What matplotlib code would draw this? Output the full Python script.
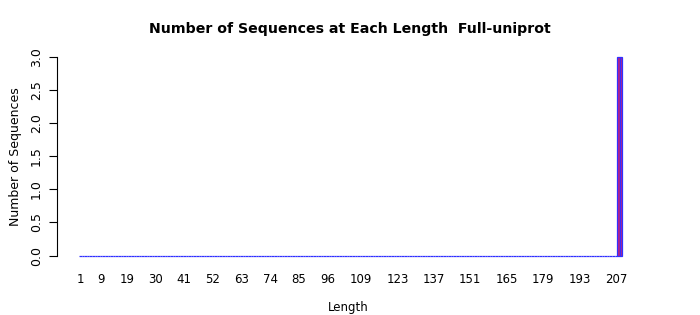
import numpy as np
import matplotlib
matplotlib.use('Agg')
import matplotlib.pyplot as plt

# sequence lengths 1..209, counts per length
lengths = np.arange(1, 210)
counts = np.zeros(len(lengths))
counts[lengths == 208] = 3
counts[lengths == 209] = 3

# labels R kept after dropping overlapping names
shown_labels = [1, 9, 19, 30, 41, 52, 63, 74, 85, 96, 109, 123, 137,
                151, 165, 179, 193, 207]
y_ticks = [0.0, 0.5, 1.0, 1.5, 2.0, 2.5, 3.0]

W, H = 700, 315
fig = plt.figure(figsize=(W / 100, H / 100), dpi=100)

# axes box in pixels: left spine at x=57, y=0 at 255, y=3 at 57
ax_left, ax_right = 57, 640
ax_top, ax_bot = 57, 255.5
ax = fig.add_axes([ax_left / W, 1 - ax_bot / H,
                   (ax_right - ax_left) / W, (ax_bot - ax_top) / H])

px_per_bar = 2.6
x1_px = 80.3
ax.set_xlim(1 - (x1_px - ax_left) / px_per_bar,
            1 + (ax_right - x1_px) / px_per_bar)
ax.set_ylim(0, 3)

ax.bar(lengths, counts, width=0.95, color='#c02080', edgecolor='#3030ff',
       linewidth=0.9, clip_on=False)

for s in ['top', 'right', 'bottom']:
    ax.spines[s].set_visible(False)
ax.spines['left'].set_linewidth(0.8)

ax.set_yticks(y_ticks)
ax.set_yticklabels(['%.1f' % v for v in y_ticks], rotation=90, va='center',
                   fontsize=9)
ax.tick_params(axis='y', length=6, width=0.8, pad=4)

ax.set_xticks(shown_labels)
ax.set_xticklabels([str(v) for v in shown_labels], fontsize=8.5)
ax.tick_params(axis='x', length=0, pad=12.4)

ax.set_xlabel('Length', fontsize=8.5, labelpad=11)
ax.set_ylabel('Number of Sequences', fontsize=9, labelpad=6)

fig.text(350 / W, 1 - 29 / H, 'Number of Sequences at Each Length  Full-uniprot',
         ha='center', va='center', fontsize=10.2, fontweight='bold')

fig.savefig('out.png', dpi=100)
